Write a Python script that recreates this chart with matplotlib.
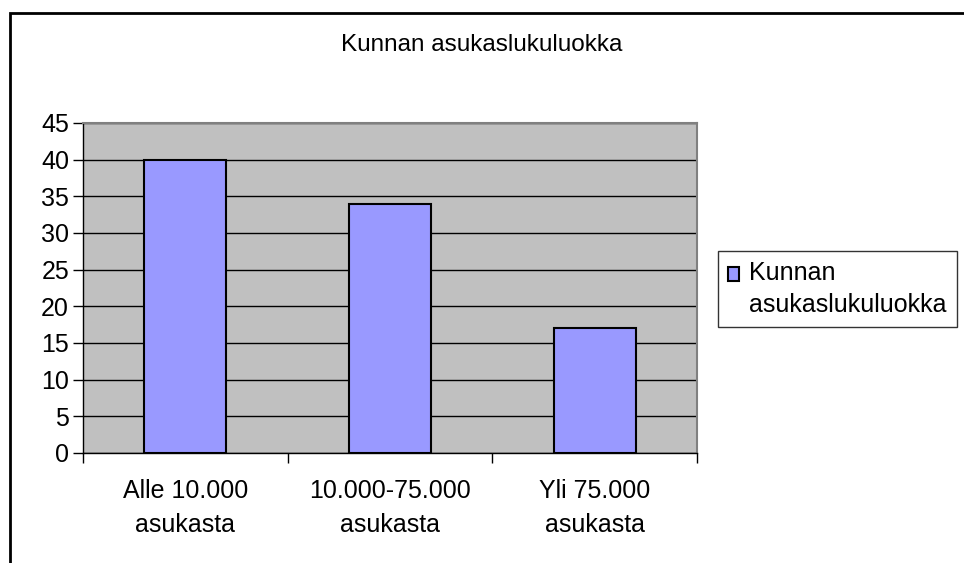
import matplotlib.pyplot as plt
from matplotlib.patches import Rectangle
from matplotlib.legend_handler import HandlerPatch

categories = ["Alle 10.000\nasukasta", "10.000-75.000\nasukasta", "Yli 75.000\nasukasta"]
values = [40, 34, 17]
series_name = "Kunnan\nasukaslukuluokka"
title = "Kunnan asukaslukuluokka"
yticks = list(range(0, 50, 5))

W, H = 964, 563
FS = 18
plt.rcParams["font.family"] = ["Liberation Sans", "DejaVu Sans"]

fig = plt.figure(figsize=(W / 100, H / 100), dpi=100)

# outer chart border (only left and top visible in the crop)
fig.add_artist(Rectangle((10 / W, -0.1), 1.2, (H - 13) / H + 0.1, transform=fig.transFigure,
                         fill=False, edgecolor="black", linewidth=2))

ax = fig.add_axes([83 / W, 1 - 453 / H, (697 - 83) / W, (453 - 123) / H])
ax.set_facecolor("#C0C0C0")

x = range(len(categories))
bars = ax.bar(x, values, width=0.4, color="#9999FF", edgecolor="black", linewidth=1.5,
              zorder=3)

ax.set_xlim(-0.5, len(categories) - 0.5)
ax.set_ylim(0, 45)
ax.set_yticks(yticks)
ax.grid(axis="y", color="black", linewidth=1, zorder=1)
ax.set_axisbelow(True)

ax.set_xticks([i - 0.5 for i in range(len(categories) + 1)], minor=False)
ax.set_xticklabels([])
ax.set_xticks(list(x), minor=True)
ax.set_xticklabels(categories, minor=True, fontsize=FS, linespacing=1.5)
ax.tick_params(axis="x", which="major", length=7, direction="out", width=1)
ax.tick_params(axis="x", which="minor", length=0, pad=19)
ax.tick_params(axis="y", length=7, width=1, labelsize=FS, pad=3)

for side in ["top", "right"]:
    ax.spines[side].set_color("#808080")
    ax.spines[side].set_linewidth(1.5)
for side in ["left", "bottom"]:
    ax.spines[side].set_color("black")
    ax.spines[side].set_linewidth(1)

fig.text(482 / W, 1 - 45 / H, title, ha="center", va="center", fontsize=17.5)


# legend square sits beside the first line of the two-line label
def top_square(legend, orig_handle, xdescent, ydescent, width, height, fontsize):
    return Rectangle((-xdescent, -ydescent + 11), width, height)


leg = fig.legend(handles=[bars.patches[0]], labels=[series_name],
                 loc="upper left", bbox_to_anchor=(718 / W, 1 - 251 / H), fontsize=FS,
                 frameon=True, fancybox=False, edgecolor="black", handlelength=0.45,
                 handleheight=0.45, handletextpad=0.4, borderpad=0.4, borderaxespad=0,
                 handler_map={Rectangle: HandlerPatch(patch_func=top_square)})
leg.get_frame().set_linewidth(1)
for t in leg.get_texts():
    t.set_linespacing(1.4)

fig.savefig("out.png", dpi=100)
